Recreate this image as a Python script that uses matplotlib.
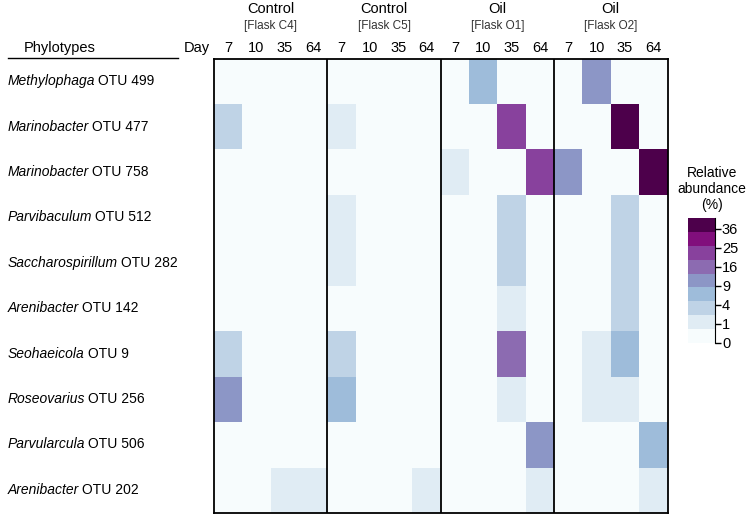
import numpy as np
import matplotlib
matplotlib.use("Agg")
import matplotlib.pyplot as plt
from matplotlib.colors import FuncNorm
from matplotlib.cm import ScalarMappable

plt.rcParams['font.family'] = ['Liberation Sans', 'DejaVu Sans']

genera = ["Methylophaga", "Marinobacter", "Marinobacter", "Parvibaculum",
          "Saccharospirillum", "Arenibacter", "Seohaeicola", "Roseovarius",
          "Parvularcula", "Arenibacter"]
otus = ["OTU 499", "OTU 477", "OTU 758", "OTU 512", "OTU 282",
        "OTU 142", "OTU 9", "OTU 256", "OTU 506", "OTU 202"]
groups = ["Control", "Control", "Oil", "Oil"]
flasks = ["[Flask C4]", "[Flask C5]", "[Flask O1]", "[Flask O2]"]
days = ["7", "10", "35", "64"]

# relative abundance (%) per phylotype; columns C4(7,10,35,64) C5(...) O1(...) O2(...)
c4 = [[0, 0, 0, 0], [3, 0, 0, 0], [0, 0, 0, 0], [0, 0, 0, 0], [0, 0, 0, 0],
      [0, 0, 0, 0], [3, 0, 0, 0], [11, 0, 0, 0], [0, 0, 0, 0], [0, 0, 1, 1]]
c5 = [[0, 0, 0, 0], [1, 0, 0, 0], [0, 0, 0, 0], [1, 0, 0, 0], [1, 0, 0, 0],
      [0, 0, 0, 0], [3, 0, 0, 0], [6.5, 0, 0, 0], [0, 0, 0, 0], [0, 0, 0, 1]]
o1 = [[0, 6.5, 0, 0], [0, 0, 22, 0], [1, 0, 0, 22], [0, 0, 3, 0], [0, 0, 3, 0],
      [0, 0, 1, 0], [0, 0, 15, 0], [0, 0, 1, 0], [0, 0, 0, 11], [0, 0, 0, 1]]
o2 = [[0, 11, 0, 0], [0, 0, 40, 0], [11, 0, 0, 40], [0, 0, 3, 0], [0, 0, 3, 0],
      [0, 0, 3, 0], [0, 1, 6.5, 0], [0, 1, 1, 0], [0, 0, 0, 6.5], [0, 0, 0, 1]]
cbar_ticks = [0, 1, 4, 9, 16, 25, 36]

data = np.hstack([np.array(c4), np.array(c5), np.array(o1), np.array(o2)])
nrow, ncol = data.shape

cmap = plt.get_cmap('BuPu', 9)
norm = FuncNorm((lambda x: np.sqrt(np.clip(x, 0, None)), lambda y: np.square(y)), vmin=0, vmax=43)

fig = plt.figure(figsize=(7.5, 5.19), dpi=100)
ax = fig.add_axes([214/750, 1 - 513/519, (667.5 - 214)/750, (513 - 58.5)/519])
ax.pcolormesh(np.arange(ncol + 1), np.arange(nrow + 1), data, cmap=cmap, norm=norm)
ax.set_xlim(0, ncol)
ax.set_ylim(nrow, 0)
ax.set_xticks([])
ax.set_yticks([])
for s in ax.spines.values():
    s.set_linewidth(1.3)
for g in range(1, 4):
    ax.axvline(g * 4, color='black', lw=1.3)

# column day labels
for j in range(ncol):
    ax.text(j + 0.5, -0.24, days[j % 4], ha='center', va='center', fontsize=10.5)
ax.text(-0.6, -0.24, "Day", ha='center', va='center', fontsize=10.5)
for g in range(4):
    ax.text(g * 4 + 2, -0.72, flasks[g], ha='center', va='center', fontsize=8.5, color='#333333')
    ax.text(g * 4 + 2, -1.08, groups[g], ha='center', va='center', fontsize=10.5)

# Phylotypes header
fig.text(60/750, 1 - 48/519, "Phylotypes", ha='center', va='center', fontsize=10.5)
fig.add_artist(plt.Line2D([8/750, 178/750], [1 - 57.5/519, 1 - 57.5/519], color='black', lw=1.0))

# row labels
fig.canvas.draw()
renderer = fig.canvas.get_renderer()
for i in range(nrow):
    y = 1 - (58.5 + (i + 0.5) * 45.4) / 519
    t = fig.text(8/750, y, genera[i], ha='left', va='center', fontsize=10, style='italic')
    bb = t.get_window_extent(renderer=renderer)
    x2 = (bb.x1 + 3) / fig.bbox.width
    fig.text(x2, y, otus[i], ha='left', va='center', fontsize=10)

# colorbar
cax = fig.add_axes([688/750, 1 - 343/519, 27/750, 125/519])
sm = ScalarMappable(norm=norm, cmap=cmap)
cb = fig.colorbar(sm, cax=cax, ticks=cbar_ticks)
cb.ax.set_yticklabels([str(t) for t in cbar_ticks])
cb.ax.tick_params(labelsize=10.5, length=4, width=1, pad=1)
cb.outline.set_visible(False)
cax.spines['right'].set_visible(True)
fig.text(712/750, 1 - 189/519, "Relative\nabundance\n(%)", ha='center', va='center',
         fontsize=10, linespacing=1.15)

fig.savefig("out.png", dpi=100)
